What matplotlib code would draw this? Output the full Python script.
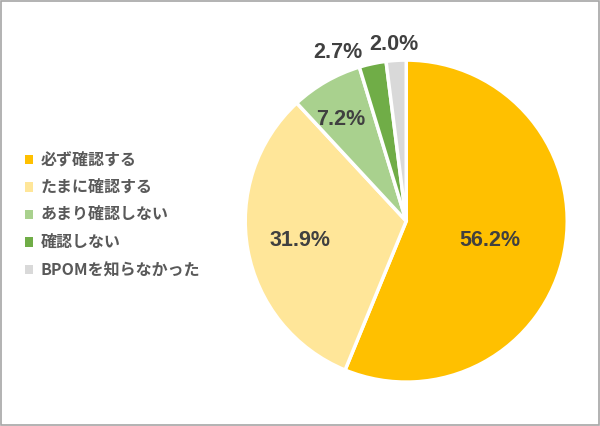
import matplotlib
matplotlib.use("Agg")
import matplotlib.pyplot as plt
import numpy as np

plt.rcParams['font.family'] = ['Noto Sans CJK JP', 'DejaVu Sans']

categories = ['必ず確認する', 'たまに確認する', 'あまり確認しない', '確認しない', 'BPOMを知らなかった']
values = [56.2, 31.9, 7.2, 2.7, 2.0]
colors = ['#FFC000', '#FFE699', '#A9D18E', '#70AD47', '#D9D9D9']

# label placement (radius fraction, angle offset deg)
label_r = [0.53, 0.67, 0.75, 1.13, 1.10]
label_dang = [-1.7, 0.0, 3.0, 10.0, 0.5]

fig = plt.figure(figsize=(6.0, 4.26), dpi=100)
fig.patch.set_facecolor('white')
border = plt.Rectangle((0.0015, 0.002), 0.997, 0.996, transform=fig.transFigure,
                       fill=False, edgecolor='#A6A6A6', linewidth=1.2)
fig.patches.append(border)

ax = fig.add_axes([0.677 - 0.2683, 0.481 - 0.378, 0.5367, 0.756])
wedges, _ = ax.pie(values, colors=colors, startangle=90, counterclock=False,
                   wedgeprops=dict(edgecolor='white', linewidth=2.5))
ax.set_xlim(-1, 1)
ax.set_ylim(-1, 1)
ax.set_aspect('equal')

for w, v, r, da in zip(wedges, values, label_r, label_dang):
    ang = np.deg2rad((w.theta1 + w.theta2) / 2 + da)
    ax.text(r * np.cos(ang), r * np.sin(ang), f'{v:.1f}%', ha='center', va='center',
            fontsize=15.5, fontweight='bold', color='#404040', family=['Liberation Sans', 'DejaVu Sans'])

handles = [plt.Rectangle((0, 0), 1, 1, facecolor=c, edgecolor='none') for c in colors]
leg = fig.legend(handles, categories, loc='center left', bbox_to_anchor=(0.017, 0.495),
                 frameon=False, handlelength=0.5, handleheight=0.5, handletextpad=0.5,
                 labelspacing=0.72, prop={'size': 11.5, 'weight': 'bold'})
for t in leg.get_texts():
    t.set_color('#595959')

fig.savefig('out.png', dpi=100)
